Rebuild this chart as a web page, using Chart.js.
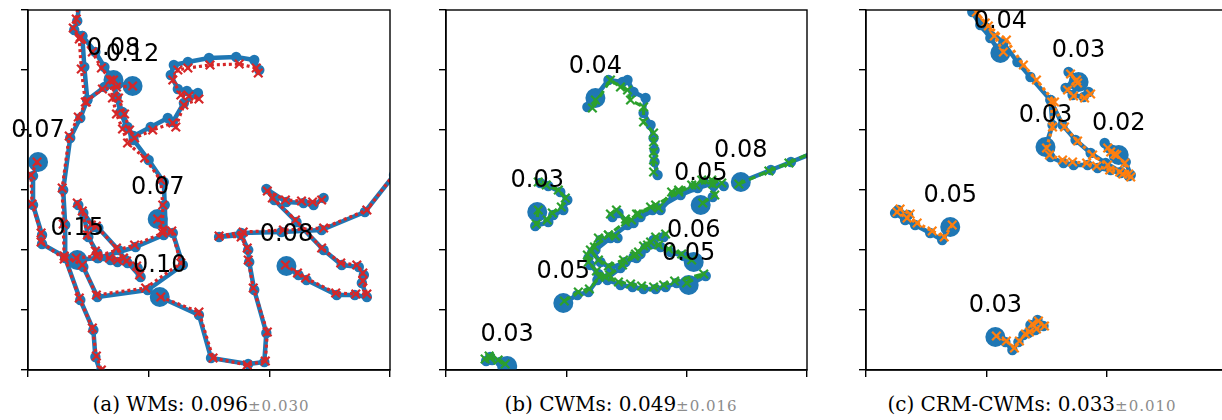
<!DOCTYPE html>
<html><head><meta charset="utf-8">
<script src="https://cdn.jsdelivr.net/npm/chart.js@4.4.1/dist/chart.umd.min.js"></script>
<style>
html,body{margin:0;padding:0;background:#fff;width:1222px;height:420px;overflow:hidden;position:relative}
canvas{position:absolute}
.cap{position:absolute;top:394px;transform:translateX(-50%);white-space:nowrap;font-family:"DejaVu Serif";font-size:20px;line-height:20px;color:#000}
.cap .pm{font-size:15px;color:#8c8c8c;letter-spacing:1px}
</style></head><body>
<canvas id="ca" width="409" height="382" style="left:1px;top:0px"></canvas>
<canvas id="cb" width="408" height="382" style="left:419px;top:0px"></canvas>
<canvas id="cc" width="408" height="382" style="left:839px;top:0px"></canvas>
<div class="cap" style="left:201px">(a) WMs: 0.096<span class="pm">±0.030</span></div>
<div class="cap" style="left:621px">(b) CWMs: 0.049<span class="pm">±0.016</span></div>
<div class="cap" style="left:1032px">(c) CRM-CWMs: 0.033<span class="pm">±0.010</span></div>
<script>
// ---- axis ticks ----
const xTicks = [0, 120, 240, 360];
const yTicks = [0, 60, 120, 180, 240, 300, 360];

// ---- (a) WMs ----
const wmsErrors = ["0.08", "0.12", "0.07", "0.07", "0.15", "0.10", "0.08"];
const wmsTrue = [
  [[85,290],[88,273],[94,258],[99,243],[105,234],[122,243],[139,252],[144,248],[155,267],[169,277],[158,279],[149,281],[142,295],[145,305],[159,308],[180,312],[207,313],[225,310],[230,300]],
  [[104,284],[90,286],[76,283],[59,270],[56,303],[54,334],[46,340],[49,349],[51,368]],
  [[129,151],[137,138],[136,165],[135,188],[120,210],[105,230],[98,243],[92,258],[88,273],[85,290],[76,303],[67,318],[54,334]],
  [[10,208],[5,194],[5,165],[14,135],[14,126],[37,113],[37,145],[35,180],[42,232],[52,252],[59,270]],
  [[49,110],[69,112],[82,110],[89,108],[99,107],[109,102],[112,93],[97,110],[90,120],[70,142],[65,143],[50,165],[55,157],[60,133],[69,117],[70,112],[107,123],[135,135],[144,137],[154,105],[119,80],[69,73],[55,103],[37,112],[52,70],[65,40],[67,13],[72,-2]],
  [[131,73],[170,55],[182,12],[219,6],[235,8],[237,37],[225,80],[220,108],[219,120],[212,135],[190,133],[212,137],[252,138],[292,140],[335,158],[364,195]],
  [[257,104],[269,95],[277,90],[307,75],[325,75],[337,73],[332,87],[334,95],[329,103],[312,105],[294,120],[267,148],[245,170],[237,181],[257,168],[274,167],[284,165],[294,172]]
];
const wmsPred = [
  [[85,290],[90,272],[96,256],[101,240],[106,232],[124,240],[144,247],[147,243],[155,265],[170,271],[160,274],[152,275],[144,290],[149,300],[159,302],[181,305],[210,306],[227,302],[229,297]],
  [[104,284],[88,283],[74,281],[57,268],[53,301],[51,331],[45,342],[48,351],[50,366]],
  [[129,151],[134,140],[134,165],[132,190],[116,212],[99,227],[94,241],[88,256],[84,272],[82,290],[73,302],[64,318],[52,333]],
  [[9,208],[3,195],[4,166],[13,137],[13,128],[36,111],[35,146],[34,182],[41,234],[50,253],[58,268]],
  [[48,112],[68,114],[81,112],[89,110],[98,109],[108,104],[111,95],[95,112],[88,122],[68,144],[63,145],[49,167],[54,159],[59,135],[67,119],[69,114],[106,125],[134,137],[143,139],[152,107],[117,82],[68,75],[54,105],[36,114],[51,72],[64,42],[68,14],[73,0]],
  [[132,73],[170,58],[184,12],[218,5],[236,9],[238,38],[224,82],[219,110],[218,122],[212,133],[190,134],[214,138],[254,140],[294,142],[337,160],[365,197]],
  [[256,105],[268,97],[276,92],[306,77],[326,76],[337,76],[333,89],[333,97],[327,105],[311,107],[292,122],[266,150],[243,172],[238,179],[256,170],[272,169],[283,168],[292,170]]
];

// ---- (b) CWMs ----
const cwmsErrors = ["0.04", "0.03", "0.08", "0.05", "0.06", "0.05", "0.05", "0.03"];
const cwmsTrue = [
  [[149,272],[141,263],[162,290],[176,288],[181,290],[187,278],[199,272],[197,257],[204,245],[207,232],[208,220],[208,208],[211,195]],
  [[91,158],[89,144],[102,148],[107,155],[117,160],[121,170],[114,178],[102,184],[94,187]],
  [[294,188],[324,200],[344,208],[366,217]],
  [[254,165],[266,173],[267,184],[257,188],[247,183],[234,177],[227,175],[214,160],[206,160],[192,153],[187,147],[181,148],[172,157],[166,153]],
  [[247,108],[237,114],[224,118],[214,123],[206,126],[199,122],[194,116],[190,112],[179,108],[164,102],[154,108],[146,118],[154,130],[164,133],[171,132]],
  [[242,85],[259,94],[230,87],[219,83],[209,81],[197,81],[186,83],[174,85],[161,90],[152,96],[144,105],[142,112],[149,120],[164,132],[181,145],[194,153],[211,162],[234,175],[251,182],[267,187],[277,184]],
  [[117,67],[131,75],[142,78],[151,90],[161,92],[174,102],[187,113],[199,122],[207,130],[217,133]],
  [[61,4],[54,8],[46,10],[40,9],[44,13]]
];
const cwmsPred = [
  [[149,270],[146,262],[164,290],[174,283],[181,280],[184,270],[197,263],[197,248],[207,237],[207,228],[207,218],[207,210],[207,198]],
  [[92,160],[90,146],[101,150],[106,157],[115,163],[119,172],[112,180],[100,185],[92,188]],
  [[292,186],[322,199],[342,207],[366,218]],
  [[256,167],[268,175],[266,186],[255,190],[245,185],[232,180],[225,178],[212,162],[204,163],[190,156],[185,150],[179,151],[170,160],[164,156]],
  [[245,110],[235,116],[222,121],[212,125],[204,128],[197,124],[192,118],[188,114],[177,110],[162,104],[152,110],[144,120],[152,132],[162,135],[169,134]],
  [[240,87],[257,96],[228,89],[217,85],[207,83],[195,84],[184,86],[172,88],[159,93],[150,99],[142,108],[141,115],[148,123],[162,135],[179,148],[192,156],[209,165],[232,178],[249,185],[265,190],[275,187]],
  [[118,69],[132,78],[143,81],[153,93],[163,95],[176,105],[189,116],[201,125],[209,133],[219,136]],
  [[59,6],[52,10],[44,12],[39,11],[43,14]]
];

// ---- (c) CRM-CWMs ----
const crmErrors = ["0.04", "0.03", "0.03", "0.02", "0.05", "0.03"];
const crmTrue = [
  [[134,317],[124,332],[114,345],[106,358],[119,343],[137,327],[151,308],[164,293],[184,270]],
  [[212,288],[202,298],[209,292],[199,282],[206,275],[217,273],[222,278]],
  [[179,223],[186,245],[184,270],[196,245],[209,230],[224,217],[239,207],[254,198],[262,194]],
  [[252,215],[242,222],[238,227],[246,220],[259,208],[264,195],[254,197],[244,200],[231,202],[221,205],[207,205],[197,207],[184,213]],
  [[84,143],[76,130],[64,137],[49,145],[39,150],[29,157],[32,160],[42,155]],
  [[129,33],[139,28],[146,20],[152,28],[157,35],[164,45],[171,50],[177,44],[169,40],[162,37]]
];
const crmPred = [
  [[137,318],[128,334],[119,347],[110,358],[122,344],[140,330],[157,305],[170,290],[188,268]],
  [[211,287],[204,296],[210,290],[201,280],[207,274],[218,272],[224,276]],
  [[180,222],[186,243],[185,268],[198,243],[211,229],[226,215],[241,205],[256,196],[264,193]],
  [[250,215],[244,218],[241,222],[248,216],[258,207],[262,196],[253,198],[243,200],[230,204],[220,207],[206,208],[196,210],[183,215]],
  [[86,145],[78,133],[66,139],[51,147],[41,152],[31,158],[34,161],[44,156]],
  [[130,34],[140,29],[148,22],[153,29],[159,36],[166,46],[172,49],[178,44],[170,41],[163,38]]
];

const BLUE = '#1f77b4';

function axis(pos, ticksArr) {
  return {
    type: 'linear', position: pos,
    min: ticksArr[0], max: ticksArr[ticksArr.length - 1],
    afterBuildTicks: s => { s.ticks = ticksArr.map(v => ({ value: v })); },
    ticks: { display: false },
    grid: { drawOnChartArea: false, drawTicks: true, tickLength: 7, color: '#000', lineWidth: 1.4 },
    border: { display: true, color: '#000', width: 1.4 }
  };
}

const framePlugin = {
  id: 'frameAndLabels',
  afterDatasetsDraw(chart, args, opts) {
    const ctx = chart.ctx, a = chart.chartArea;
    ctx.save();
    ctx.strokeStyle = '#000'; ctx.lineWidth = 1.4;
    ctx.strokeRect(a.left, a.top, a.right - a.left, a.bottom - a.top);
    ctx.font = '24px "DejaVu Sans"';
    ctx.fillStyle = '#000'; ctx.textAlign = 'center'; ctx.textBaseline = 'alphabetic';
    opts.labels.forEach((t, i) => {
      const el = chart.getDatasetMeta(i).data[0];
      ctx.fillText(t, el.x, el.y - 25);
    });
    ctx.restore();
  }
};

function makePanel(id, trueSets, predSets, errors, predColor, predDash, padL) {
  const ds = [];
  trueSets.forEach(traj => {
    ds.push({
      data: traj.map(p => ({ x: p[0], y: p[1] })),
      showLine: true, borderColor: BLUE, borderWidth: 4.5,
      borderJoinStyle: 'round', borderCapStyle: 'round',
      pointStyle: 'circle', pointBackgroundColor: BLUE, pointBorderWidth: 0,
      pointRadius: traj.map((p, j) => j === 0 ? 10 : 5.2),
      order: 2, clip: 0
    });
  });
  predSets.forEach(traj => {
    ds.push({
      data: traj.map(p => ({ x: p[0], y: p[1] })),
      showLine: true, borderColor: predColor, borderWidth: 3.2, borderDash: predDash,
      borderCapStyle: 'butt',
      pointStyle: 'crossRot', pointRadius: 6, pointBorderColor: predColor,
      pointBorderWidth: 2.2, order: 1, clip: 0
    });
  });
  new Chart(document.getElementById(id), {
    type: 'scatter',
    data: { datasets: ds },
    options: {
      responsive: false, animation: false, events: [],
      layout: { padding: { left: padL, right: 20, top: 10, bottom: 5 } },
      plugins: { legend: { display: false }, tooltip: { enabled: false }, frameAndLabels: { labels: errors } },
      scales: { x: axis('bottom', xTicks), y: axis('left', yTicks) }
    },
    plugins: [framePlugin]
  });
}

makePanel('ca', wmsTrue, wmsPred, wmsErrors, '#d62728', [3, 3], 20);
makePanel('cb', cwmsTrue, cwmsPred, cwmsErrors, '#2ca02c', [7, 4], 20);
makePanel('cc', crmTrue, crmPred, crmErrors, '#ff7f0e', [3, 3], 20);
</script>
</body></html>
